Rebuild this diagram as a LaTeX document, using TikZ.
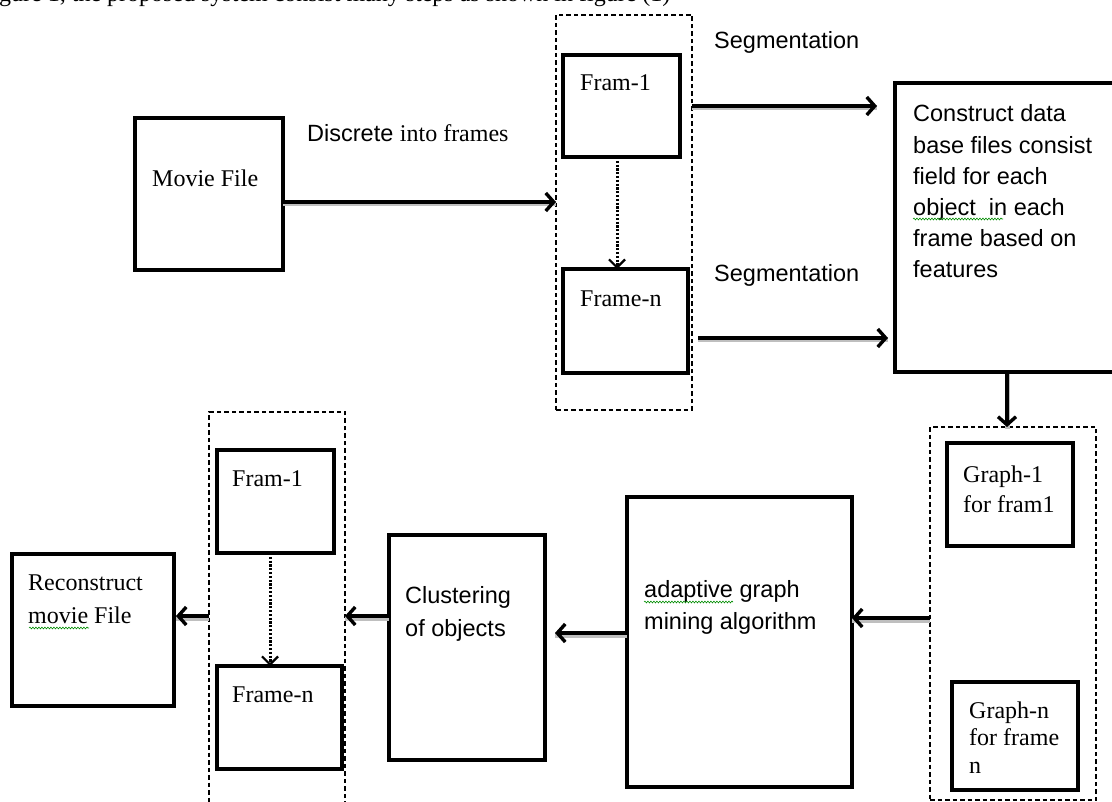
\documentclass[tikz,border=0pt]{standalone}
\usepackage{fontspec}
\setmainfont{Liberation Serif}
\setsansfont{Liberation Sans}
\usetikzlibrary{arrows.meta,calc,decorations.pathmorphing}
\begin{document}
\begin{tikzpicture}[x=1pt,y=-1pt,
 box/.style={draw, line width=3.9pt, inner sep=0pt, outer sep=0pt, anchor=north west},
 grp/.style={draw, line width=1.3pt, dash pattern=on 4.5pt off 3pt, inner sep=0pt, outer sep=0pt, anchor=north west},
 ser/.style={font=\fontsize{24}{31}\selectfont, inner sep=0pt, anchor=base west, align=left},
 san/.style={font=\sffamily\fontsize{23.5}{31.5}\selectfont, inner sep=0pt, anchor=base west, align=left},
 arr/.style={line width=3.2pt, -{Straight Barb[length=8pt,width=18pt,line width=3.4pt]},
   preaction={draw=black!25, line width=5pt, transform canvas={yshift=-2pt}, arrows=-}},
 dotarr/.style={line width=3pt, dash pattern=on 2.2pt off 1.6pt, -{Straight Barb[length=8pt,width=16pt,line width=2.2pt]}},
 squig/.style={draw=green!55!black, line width=0.6pt, decorate, decoration={snake, amplitude=0.9pt, segment length=3pt}}
]
\useasboundingbox (0,0) rectangle (1112,802);

% boxes
\node[box, minimum width=148pt, minimum height=152pt] (movie) at (135,118) {};
\node[grp, minimum width=136pt, minimum height=395pt] (ftop) at (556,15) {};
\node[box, minimum width=117pt, minimum height=102pt] (f1t) at (563,55) {};
\node[box, minimum width=125pt, minimum height=104pt] (fnt) at (563,269) {};
\node[box, minimum width=240pt, minimum height=289pt] (cons) at (895,83) {};
\node[grp, minimum width=166pt, minimum height=373pt] (gdash) at (930,427) {};
\node[box, minimum width=126pt, minimum height=103pt] (g1) at (947,443) {};
\node[box, minimum width=126pt, minimum height=108pt] (gn) at (952,682) {};
\node[box, minimum width=225pt, minimum height=290pt] (adapt) at (627,497) {};
\node[box, minimum width=156pt, minimum height=225pt] (clus) at (389,535) {};
\node[grp, minimum width=136pt, minimum height=430pt] (bdash) at (209,412) {};
\node[box, minimum width=117pt, minimum height=103pt] (f1b) at (217,450) {};
\node[box, minimum width=125pt, minimum height=103pt] (fnb) at (217,666) {};
\node[box, minimum width=162pt, minimum height=152pt] (recon) at (12,554) {};

% texts (multi-line nodes are placed at the baseline of their last line)
\node[ser] (ttop) at (-1,2) {gure 1, the proposed system consist many steps as shown in figure (1)};
\node[ser] (tmovie) at (152,187) {Movie File};
\node[san] (tdisc) at (307,142) {Discrete {\rmfamily\fontsize{24}{31}\selectfont into frames}};
\node[ser] (tf1t) at (580,91) {Fram-1};
\node[ser] (tfnt) at (580,307) {Frame-n};
\node[san] (tseg1) at (714,49) {Segmentation};
\node[san] (tseg2) at (714,282) {Segmentation};
\node[san, font=\sffamily\fontsize{23.5}{31.2}\selectfont] (tcons) at (913,278) {Construct data\\base files consist\\field for each\\object\ \ in each\\frame based on\\features};
\node[ser, font=\fontsize{24}{30}\selectfont] (tg1) at (963,512) {Graph-1\\for fram1};
\node[ser, font=\fontsize{24}{27.5}\selectfont] (tgn) at (969,773) {Graph-n\\for frame\\n};
\node[san, font=\sffamily\fontsize{23.5}{32}\selectfont] (tadapt) at (644,629) {adaptive graph\\mining algorithm};
\node[san, font=\sffamily\fontsize{23.5}{33}\selectfont] (tclus) at (405,636) {Clustering\\of objects};
\node[ser, font=\fontsize{24}{33}\selectfont] (trecon) at (28,623) {Reconstruct\\movie File};
\node[ser] (tf1b) at (232,486) {Fram-1};
\node[ser] (tfnb) at (232,702) {Frame-n};

% spell-check squiggles
\draw[squig] (913,219) -- (1003,219);
\draw[squig] (29,628) -- (89,628);
\draw[squig] (644,602) -- (733,602);

% connectors
\coordinate (c1) at ($(movie.east)+(0,8)$);
\draw[arr] (c1) -- (c1 -| ftop.west);
\coordinate (c2) at (f1t.east -| ftop.east);
\coordinate (c2b) at ($(f1t.east -| cons.west)+(-18,0)$);
\draw[arr] (c2) -- (c2b);
\coordinate (c3) at ($(fnt.east -| ftop.east)+(6,17)$);
\coordinate (c3b) at ($(fnt.east -| cons.west)+(-7,17)$);
\draw[arr] (c3) -- (c3b);
\coordinate (c4) at ($(cons.south west)+(112,0)$);
\draw[arr] (c4) -- (c4 |- gdash.north);
\coordinate (c5) at ($(gdash.west)+(0,4.5)$);
\draw[arr] (c5) -- (c5 -| adapt.east);
\coordinate (c6) at ($(adapt.west)+(0,-9)$);
\coordinate (c6b) at ($(c6 -| clus.east)+(10,0)$);
\draw[arr] (c6) -- (c6b);
\coordinate (c7) at ($(clus.west)+(0,-31.5)$);
\draw[arr] (c7) -- (c7 -| bdash.east);
\coordinate (c8) at (c7 -| bdash.west);
\coordinate (c8b) at ($(c7 -| recon.east)+(2,0)$);
\draw[arr] (c8) -- (c8b);
\coordinate (d1) at ($(f1t.south)+(-4.5,0)$);
\draw[dotarr] (d1) -- (d1 |- fnt.north);
\coordinate (d2) at ($(f1b.south)+(-5.5,0)$);
\draw[dotarr] (d2) -- (d2 |- fnb.north);
\end{tikzpicture}
\end{document}
